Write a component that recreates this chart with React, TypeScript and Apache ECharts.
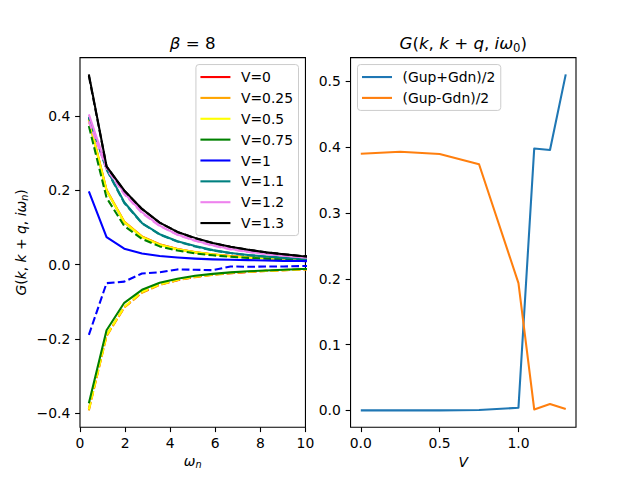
import { useEffect, useRef } from 'react';
import * as echarts from 'echarts';

const FONT = 'DejaVu Sans';

// Matsubara frequencies omega_n for beta = 8
const OMEGA_N = [0.393, 1.178, 1.963, 2.749, 3.534, 4.32, 5.105, 5.89, 6.676, 7.461, 8.247, 9.032, 9.817, 10.603];

const V_LABELS = ['V=0', 'V=0.25', 'V=0.5', 'V=0.75', 'V=1', 'V=1.1', 'V=1.2', 'V=1.3'];
const V_COLORS = ['#ff0000', '#ffa500', '#ffff00', '#008000', '#0000ff', '#008080', '#ee82ee', '#000000'];

// G(k, k+q, i omega_n): solid component per V
const UP_V0 = [0.39, 0.2, 0.1145, 0.075, 0.054, 0.042, 0.033, 0.027, 0.023, 0.02, 0.017, 0.015, 0.013, 0.012];
const UP_V025 = [0.393, 0.202, 0.116, 0.076, 0.055, 0.042, 0.034, 0.028, 0.023, 0.02, 0.017, 0.015, 0.013, 0.012];
const UP_V05 = [0.3896, 0.199, 0.114, 0.074, 0.053, 0.041, 0.033, 0.027, 0.022, 0.019, 0.017, 0.015, 0.013, 0.012];
const UP_V075 = [-0.374, -0.177, -0.103, -0.068, -0.049, -0.038, -0.03, -0.025, -0.021, -0.018, -0.016, -0.014, -0.012, -0.011];
const UP_V1 = [0.1975, 0.074, 0.043, 0.03, 0.023, 0.019, 0.016, 0.014, 0.013, 0.012, 0.011, 0.01, 0.0095, 0.009];
const UP_V11 = [0.399, 0.258, 0.168, 0.112, 0.082, 0.063, 0.05, 0.039, 0.031, 0.026, 0.022, 0.019, 0.016, 0.014];
const UP_V12 = [0.405, 0.263, 0.193, 0.141, 0.105, 0.081, 0.065, 0.052, 0.042, 0.035, 0.029, 0.024, 0.02, 0.017];
const UP_V13 = [0.5126, 0.265, 0.2, 0.15, 0.113, 0.088, 0.072, 0.058, 0.048, 0.04, 0.033, 0.028, 0.023, 0.02];

// dashed component per V
const DN_V0 = [-0.39, -0.191, -0.115, -0.075, -0.054, -0.042, -0.033, -0.027, -0.023, -0.02, -0.017, -0.015, -0.013, -0.012];
const DN_V025 = [-0.393, -0.193, -0.116, -0.076, -0.055, -0.042, -0.034, -0.028, -0.023, -0.02, -0.017, -0.015, -0.013, -0.012];
const DN_V05 = [-0.3896, -0.19, -0.114, -0.073, -0.053, -0.041, -0.032, -0.027, -0.022, -0.019, -0.017, -0.015, -0.013, -0.012];
const DN_V075 = [0.3735, 0.18, 0.104, 0.069, 0.049, 0.038, 0.03, 0.025, 0.021, 0.018, 0.016, 0.014, 0.013, 0.012];
const DN_V1 = [-0.1895, -0.05, -0.046, -0.024, -0.021, -0.013, -0.014, -0.015, -0.005, -0.006, -0.005, -0.005, -0.004, -0.004];
const DN_V11 = [0.396, 0.256, 0.166, 0.111, 0.081, 0.062, 0.049, 0.038, 0.031, 0.025, 0.021, 0.018, 0.016, 0.014];
const DN_V12 = [0.386, 0.258, 0.19, 0.139, 0.104, 0.08, 0.064, 0.051, 0.041, 0.034, 0.028, 0.024, 0.02, 0.017];
const DN_V13 = [0.5086, 0.264, 0.199, 0.15, 0.113, 0.088, 0.071, 0.058, 0.048, 0.04, 0.033, 0.028, 0.023, 0.02];

const UP_SERIES = [UP_V0, UP_V025, UP_V05, UP_V075, UP_V1, UP_V11, UP_V12, UP_V13];
const DN_SERIES = [DN_V0, DN_V025, DN_V05, DN_V075, DN_V1, DN_V11, DN_V12, DN_V13];

// G(k, k+q, i omega_0) versus V
const V_VALUES = [0, 0.25, 0.5, 0.75, 1, 1.1, 1.2, 1.3];
const G_SUM_HALF = [0, 0, 0, 0.0005, 0.004, 0.398, 0.3956, 0.5106];
const G_DIFF_HALF = [0.39, 0.393, 0.3896, 0.374, 0.1935, 0.0015, 0.0096, 0.002];
const SUM_LABEL = '(Gup+Gdn)/2';
const DIFF_LABEL = '(Gup-Gdn)/2';
const SUM_COLOR = '#1f77b4';
const DIFF_COLOR = '#ff7f0e';

// tick values
const LEFT_X_TICK_STEP = 2;
const LEFT_Y_TICKS = [-0.4, -0.2, 0, 0.2, 0.4];
const RIGHT_X_TICKS = [0, 0.5, 1.0];
const RIGHT_Y_TICKS = [0, 0.1, 0.2, 0.3, 0.4, 0.5];

const LINE_W = 2.08;
const DASH = [7.7, 3.3];
const TICK_FONT = 13.9;

function paddedRange(values: number[], frac = 0.05): [number, number] {
  const lo = Math.min(...values);
  const hi = Math.max(...values);
  const pad = (hi - lo) * frac;
  return [lo - pad, hi + pad];
}

const fmt1 = (v: number) => v.toFixed(1).replace('-', '\u2212');

function mathRich(size: number, subLineHeight: number) {
  const lh = Math.round(size * 1.2);
  return {
    r: { fontFamily: FONT, fontSize: size, lineHeight: lh, fill: '#000', color: '#000' },
    i: { fontFamily: FONT, fontSize: size, fontStyle: 'italic', lineHeight: lh, fill: '#000', color: '#000' },
    s: { fontFamily: FONT, fontSize: size * 0.7, lineHeight: subLineHeight, verticalAlign: 'bottom', fill: '#000', color: '#000' },
    si: { fontFamily: FONT, fontSize: size * 0.7, fontStyle: 'italic', lineHeight: subLineHeight, verticalAlign: 'bottom', fill: '#000', color: '#000' },
  };
}

function mathText(x: number, y: number, text: string, size: number, subLH: number, rotation = 0) {
  return {
    type: 'text',
    x,
    y,
    rotation,
    silent: true,
    style: {
      text,
      rich: mathRich(size, subLH),
      fill: '#000',
      fontFamily: FONT,
      fontSize: size,
      align: 'center',
      textAlign: 'center',
      verticalAlign: 'middle',
      textVerticalAlign: 'middle',
    },
  };
}

function buildOption() {
  const leftAll = [...UP_SERIES.flat(), ...DN_SERIES.flat()];
  const [ly0, ly1] = paddedRange(leftAll);
  const [ry0, ry1] = paddedRange([...G_SUM_HALF, ...G_DIFF_HALF]);
  const [rx0, rx1] = paddedRange(V_VALUES);

  const tick = (customValues?: number[]) => ({
    show: true,
    inside: false,
    length: 4.9,
    lineStyle: { color: '#000', width: 1.1 },
    ...(customValues ? { customValues } : {}),
  });
  const label = (margin: number, formatter: (v: number) => string, customValues?: number[]) => ({
    show: true,
    color: '#000',
    fontFamily: FONT,
    fontSize: TICK_FONT,
    margin,
    formatter,
    ...(customValues ? { customValues } : {}),
  });
  const common = { axisLine: { show: false, onZero: false }, splitLine: { show: false } };

  const gridBase = {
    top: 57.6,
    width: 225.45,
    height: 369.6,
    show: true,
    borderColor: '#000',
    borderWidth: 1.1,
    backgroundColor: 'rgba(0,0,0,0)',
  };

  const series: any[] = [];
  V_LABELS.forEach((name, k) => {
    const color = V_COLORS[k];
    series.push({
      type: 'line',
      name,
      xAxisIndex: 0,
      yAxisIndex: 0,
      data: OMEGA_N.map((w, i) => [w, UP_SERIES[k][i]]),
      symbol: 'none',
      color,
      itemStyle: { color },
      lineStyle: { color, width: LINE_W, join: 'round' },
      silent: true,
      clip: true,
    });
    series.push({
      type: 'line',
      name: `${name} Gdn`,
      xAxisIndex: 0,
      yAxisIndex: 0,
      data: OMEGA_N.map((w, i) => [w, DN_SERIES[k][i]]),
      symbol: 'none',
      color,
      itemStyle: { color },
      lineStyle: { color, width: LINE_W, type: DASH, join: 'round' },
      silent: true,
      clip: true,
    });
  });
  [
    { name: SUM_LABEL, vals: G_SUM_HALF, color: SUM_COLOR },
    { name: DIFF_LABEL, vals: G_DIFF_HALF, color: DIFF_COLOR },
  ].forEach(({ name, vals, color }) => {
    series.push({
      type: 'line',
      name,
      xAxisIndex: 1,
      yAxisIndex: 1,
      data: V_VALUES.map((v, i) => [v, vals[i]]),
      symbol: 'none',
      color,
      itemStyle: { color },
      lineStyle: { color, width: LINE_W, join: 'round' },
      silent: true,
    });
  });

  const legendBase = {
    orient: 'vertical',
    top: 64.55,
    icon: 'rect',
    itemWidth: 30,
    itemHeight: 2.1,
    itemGap: 6.86,
    itemStyle: { borderWidth: 0 },
    selectedMode: false,
    padding: [5.5, 5.5, 5.5, 4.5],
    backgroundColor: 'rgba(255,255,255,0.8)',
    borderColor: '#cccccc',
    borderWidth: 1,
    borderRadius: 3,
    textStyle: { color: '#000', fontFamily: FONT, fontSize: TICK_FONT, lineHeight: 14, padding: [0, 0, 0, 5.5] },
  };

  return {
    animation: false,
    backgroundColor: '#ffffff',
    textStyle: { fontFamily: FONT },
    grid: [
      { ...gridBase, left: 80 },
      { ...gridBase, left: 350.55 },
    ],
    xAxis: [
      {
        type: 'value',
        gridIndex: 0,
        min: 0,
        max: 10,
        interval: LEFT_X_TICK_STEP,
        ...common,
        axisTick: tick(),
        axisLabel: label(8.5, (v: number) => String(v)),
      },
      {
        type: 'value',
        gridIndex: 1,
        min: rx0,
        max: rx1,
        ...common,
        axisTick: tick(RIGHT_X_TICKS),
        axisLabel: label(8.5, fmt1, RIGHT_X_TICKS),
      },
    ],
    yAxis: [
      {
        type: 'value',
        gridIndex: 0,
        min: ly0,
        max: ly1,
        ...common,
        axisTick: tick(LEFT_Y_TICKS),
        axisLabel: label(9.7, fmt1, LEFT_Y_TICKS),
      },
      {
        type: 'value',
        gridIndex: 1,
        min: ry0,
        max: ry1,
        ...common,
        axisTick: tick(RIGHT_Y_TICKS),
        axisLabel: label(9.7, fmt1, RIGHT_Y_TICKS),
      },
    ],
    legend: [
      { ...legendBase, right: 640 - 298.5, data: V_LABELS },
      { ...legendBase, left: 357.5, data: [SUM_LABEL, DIFF_LABEL] },
    ],
    series,
    graphic: [
      mathText(192.7, 43.5, '{i|β}{r| = 8}', 16.67, 11),
      mathText(463.3, 43.5, '{i|G}{r|(}{i|k}{r|, }{i|k}{r| + }{i|q}{r|, }{i|iω}{s|0}{r|)}', 16.67, 11),
      mathText(192.7, 460.5, '{i|ω}{si|n}', 13.9, 9.6),
      mathText(463.3, 461.9, '{i|V}', 13.9, 9.6),
      mathText(20.7, 242.4, '{i|G}{r|(}{i|k}{r|, }{i|k}{r| + }{i|q}{r|, }{i|iω}{si|n}{r|)}', 13.9, 9.6, Math.PI / 2),
    ],
  };
}

export default function App() {
  const ref = useRef<HTMLDivElement>(null);
  useEffect(() => {
    if (!ref.current) return;
    const chart = echarts.init(ref.current, undefined, { renderer: 'svg' });
    chart.setOption(buildOption() as any);
    return () => chart.dispose();
  }, []);
  return <div ref={ref} style={{ position: 'fixed', left: 0, top: 0, width: 640, height: 480 }} />;
}
